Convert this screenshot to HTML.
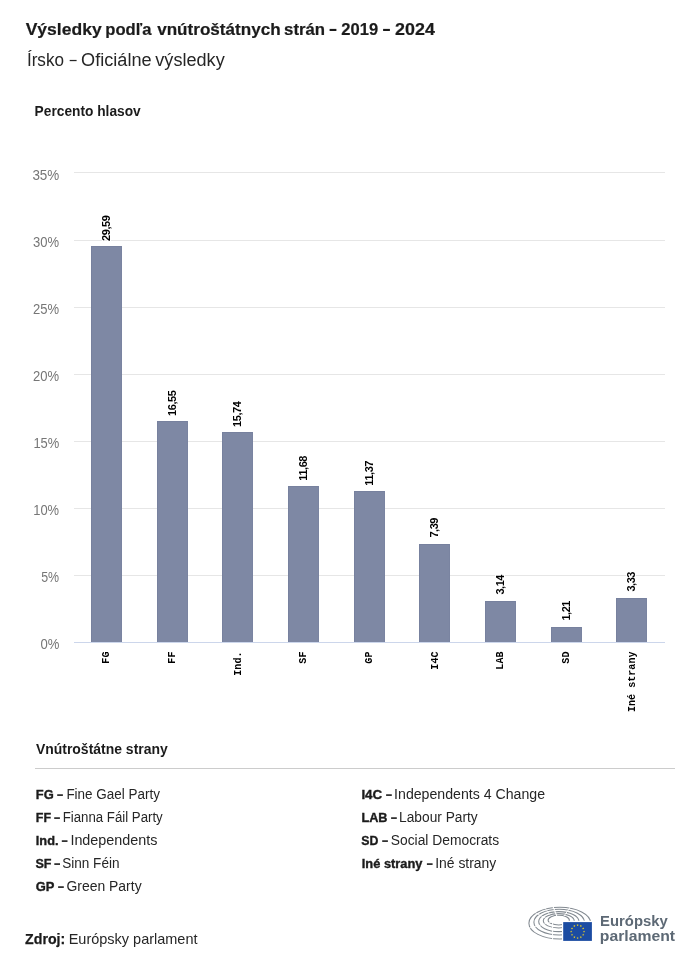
<!DOCTYPE html>
<html><head><meta charset="utf-8">
<style>
html,body{margin:0;padding:0;background:#fff;}
body{width:700px;height:964px;overflow:hidden;position:relative;}
svg{position:absolute;left:0;top:0;will-change:transform;}
text{font-family:"Liberation Sans",sans-serif;white-space:pre;}
.t{font-weight:bold;font-size:16.5px;fill:#1b1b1b;stroke:#1b1b1b;stroke-width:0.2px;}
.st{font-size:18px;fill:#262626;}
.h{font-weight:bold;font-size:14.5px;fill:#1b1b1b;}
.yl{font-size:14px;fill:#767676;}
.vl{font-weight:bold;font-size:11px;fill:#000;text-anchor:middle;letter-spacing:-0.45px;stroke:#fff;stroke-width:2px;paint-order:stroke;stroke-linejoin:round;}
.xl{font-family:"Liberation Mono",monospace;font-weight:bold;font-size:10.1px;fill:#000;text-anchor:end;}
.lb{font-weight:bold;font-size:12.4px;fill:#1b1b1b;stroke:#1b1b1b;stroke-width:0.35px;}
.lr{font-size:14px;fill:#262626;}
.zb{font-weight:bold;font-size:14.5px;fill:#1b1b1b;stroke:#1b1b1b;stroke-width:0.25px;}
.zr{font-size:14.5px;fill:#262626;}
.lg{font-weight:bold;font-size:14px;fill:#5d6975;}
</style></head><body>
<svg width="700" height="964" viewBox="0 0 700 964">
<rect x="74" y="172" width="591" height="1" fill="#e6e6e6"/>
<rect x="74" y="240" width="591" height="1" fill="#e6e6e6"/>
<rect x="74" y="307" width="591" height="1" fill="#e6e6e6"/>
<rect x="74" y="374" width="591" height="1" fill="#e6e6e6"/>
<rect x="74" y="441" width="591" height="1" fill="#e6e6e6"/>
<rect x="74" y="508" width="591" height="1" fill="#e6e6e6"/>
<rect x="74" y="575" width="591" height="1" fill="#e6e6e6"/>
<rect x="91" y="246" width="31" height="396" fill="#7e88a4"/>
<rect x="91" y="246" width="31" height="1" fill="#77819e"/><rect x="91" y="246" width="1" height="396" fill="#77819e"/><rect x="121" y="246" width="1" height="396" fill="#7a84a1"/>
<rect x="157" y="421" width="31" height="221" fill="#7e88a4"/>
<rect x="157" y="421" width="31" height="1" fill="#77819e"/><rect x="157" y="421" width="1" height="221" fill="#77819e"/><rect x="187" y="421" width="1" height="221" fill="#7a84a1"/>
<rect x="222" y="432" width="31" height="210" fill="#7e88a4"/>
<rect x="222" y="432" width="31" height="1" fill="#77819e"/><rect x="222" y="432" width="1" height="210" fill="#77819e"/><rect x="252" y="432" width="1" height="210" fill="#7a84a1"/>
<rect x="288" y="486" width="31" height="156" fill="#7e88a4"/>
<rect x="288" y="486" width="31" height="1" fill="#77819e"/><rect x="288" y="486" width="1" height="156" fill="#77819e"/><rect x="318" y="486" width="1" height="156" fill="#7a84a1"/>
<rect x="354" y="491" width="31" height="151" fill="#7e88a4"/>
<rect x="354" y="491" width="31" height="1" fill="#77819e"/><rect x="354" y="491" width="1" height="151" fill="#77819e"/><rect x="384" y="491" width="1" height="151" fill="#7a84a1"/>
<rect x="419" y="544" width="31" height="98" fill="#7e88a4"/>
<rect x="419" y="544" width="31" height="1" fill="#77819e"/><rect x="419" y="544" width="1" height="98" fill="#77819e"/><rect x="449" y="544" width="1" height="98" fill="#7a84a1"/>
<rect x="485" y="601" width="31" height="41" fill="#7e88a4"/>
<rect x="485" y="601" width="31" height="1" fill="#77819e"/><rect x="485" y="601" width="1" height="41" fill="#77819e"/><rect x="515" y="601" width="1" height="41" fill="#7a84a1"/>
<rect x="551" y="627" width="31" height="15" fill="#7e88a4"/>
<rect x="551" y="627" width="31" height="1" fill="#77819e"/><rect x="551" y="627" width="1" height="15" fill="#77819e"/><rect x="581" y="627" width="1" height="15" fill="#7a84a1"/>
<rect x="616" y="598" width="31" height="44" fill="#7e88a4"/>
<rect x="616" y="598" width="31" height="1" fill="#77819e"/><rect x="616" y="598" width="1" height="44" fill="#77819e"/><rect x="646" y="598" width="1" height="44" fill="#7a84a1"/>
<rect x="74" y="642" width="591" height="1" fill="#ccd6eb"/>
<text class="vl" transform="translate(110.0,228.3) rotate(-90)">29,59</text>
<text class="vl" transform="translate(176.0,403.3) rotate(-90)">16,55</text>
<text class="vl" transform="translate(241.0,414.3) rotate(-90)">15,74</text>
<text class="vl" transform="translate(307.0,468.3) rotate(-90)">11,68</text>
<text class="vl" transform="translate(373.0,473.3) rotate(-90)">11,37</text>
<text class="vl" transform="translate(438.0,527.8) rotate(-90)">7,39</text>
<text class="vl" transform="translate(504.0,584.8) rotate(-90)">3,14</text>
<text class="vl" transform="translate(570.0,610.8) rotate(-90)">1,21</text>
<text class="vl" transform="translate(635.0,581.8) rotate(-90)">3,33</text>
<text class="xl" transform="translate(108.80,651.5) rotate(-90)">FG</text>
<text class="xl" transform="translate(174.50,651.5) rotate(-90)">FF</text>
<text class="xl" transform="translate(241.00,651.5) rotate(-90)">Ind.</text>
<text class="xl" transform="translate(305.80,651.5) rotate(-90)">SF</text>
<text class="xl" transform="translate(371.50,651.5) rotate(-90)">GP</text>
<text class="xl" transform="translate(437.80,651.5) rotate(-90)">I4C</text>
<text class="xl" transform="translate(502.50,651.5) rotate(-90)">LAB</text>
<text class="xl" transform="translate(568.80,651.5) rotate(-90)">SD</text>
<text class="xl" transform="translate(635.00,651.5) rotate(-90)">Iné strany</text>
<rect x="35" y="768" width="640" height="1" fill="#cccccc"/>
<rect x="329.6" y="28.9" width="6.8" height="2.1" fill="#1b1b1b"/><rect x="383.1" y="28.9" width="6.8" height="2.1" fill="#1b1b1b"/><rect x="69.7" y="59.9" width="6.9" height="1.25" fill="#262626"/><rect x="57.2" y="794.3" width="5.7" height="1.6" fill="#1b1b1b"/><rect x="54.2" y="817.3" width="5.7" height="1.6" fill="#1b1b1b"/><rect x="61.8" y="840.3" width="5.7" height="1.6" fill="#1b1b1b"/><rect x="54.3" y="863.3" width="5.7" height="1.6" fill="#1b1b1b"/><rect x="58.1" y="886.3" width="5.7" height="1.6" fill="#1b1b1b"/><rect x="386.1" y="794.3" width="5.7" height="1.6" fill="#1b1b1b"/><rect x="391.1" y="817.3" width="5.7" height="1.6" fill="#1b1b1b"/><rect x="382.2" y="840.3" width="5.7" height="1.6" fill="#1b1b1b"/><rect x="426.9" y="863.3" width="5.7" height="1.6" fill="#1b1b1b"/>
<text id="t1" class="t" x="25.70" y="35" textLength="76.00" lengthAdjust="spacingAndGlyphs">Výsledky</text>
<text id="t2" class="t" x="105.30" y="35" textLength="46.10" lengthAdjust="spacingAndGlyphs">podľa</text>
<text id="t3" class="t" x="157.20" y="35" textLength="123.40" lengthAdjust="spacingAndGlyphs">vnútroštátnych</text>
<text id="t4" class="t" x="284.10" y="35" textLength="41.00" lengthAdjust="spacingAndGlyphs">strán</text>
<text id="t5" class="t" x="341.30" y="35" textLength="36.80" lengthAdjust="spacingAndGlyphs">2019</text>
<text id="t6" class="t" x="395.10" y="35" textLength="39.80" lengthAdjust="spacingAndGlyphs">2024</text>
<text id="s1" class="st" x="26.90" y="66" textLength="37.10" lengthAdjust="spacingAndGlyphs">Írsko</text>
<text id="s2" class="st" x="81.10" y="66" textLength="70.50" lengthAdjust="spacingAndGlyphs">Oficiálne</text>
<text id="s3" class="st" x="155.30" y="66" textLength="69.40" lengthAdjust="spacingAndGlyphs">výsledky</text>
<text id="ph" class="h" x="34.60" y="116" textLength="106.10" lengthAdjust="spacingAndGlyphs">Percento hlasov</text>
<text id="lh" class="h" x="35.90" y="754" textLength="131.90" lengthAdjust="spacingAndGlyphs">Vnútroštátne strany</text>
<text id="b1" class="lb" x="35.80" y="799" textLength="17.90" lengthAdjust="spacingAndGlyphs">FG</text>
<text id="r1" class="lr" x="66.40" y="799" textLength="93.60" lengthAdjust="spacingAndGlyphs">Fine Gael Party</text>
<text id="b2" class="lb" x="35.80" y="822" textLength="15.30" lengthAdjust="spacingAndGlyphs">FF</text>
<text id="r2" class="lr" x="62.70" y="822" textLength="100.00" lengthAdjust="spacingAndGlyphs">Fianna Fáil Party</text>
<text id="b3" class="lb" x="35.80" y="845" textLength="22.70" lengthAdjust="spacingAndGlyphs">Ind.</text>
<text id="r3" class="lr" x="70.40" y="845" textLength="87.10" lengthAdjust="spacingAndGlyphs">Independents</text>
<text id="b4" class="lb" x="35.40" y="868" textLength="16.10" lengthAdjust="spacingAndGlyphs">SF</text>
<text id="r4" class="lr" x="62.20" y="868" textLength="57.30" lengthAdjust="spacingAndGlyphs">Sinn Féin</text>
<text id="b5" class="lb" x="35.80" y="891" textLength="18.70" lengthAdjust="spacingAndGlyphs">GP</text>
<text id="r5" class="lr" x="66.50" y="891" textLength="75.10" lengthAdjust="spacingAndGlyphs">Green Party</text>
<text id="b6" class="lb" x="361.40" y="799" textLength="20.90" lengthAdjust="spacingAndGlyphs">I4C</text>
<text id="r6" class="lr" x="394.10" y="799" textLength="151.00" lengthAdjust="spacingAndGlyphs">Independents 4 Change</text>
<text id="b7" class="lb" x="361.40" y="822" textLength="26.10" lengthAdjust="spacingAndGlyphs">LAB</text>
<text id="r7" class="lr" x="399.10" y="822" textLength="78.60" lengthAdjust="spacingAndGlyphs">Labour Party</text>
<text id="b8" class="lb" x="361.20" y="845" textLength="17.10" lengthAdjust="spacingAndGlyphs">SD</text>
<text id="r8" class="lr" x="390.80" y="845" textLength="108.30" lengthAdjust="spacingAndGlyphs">Social Democrats</text>
<text id="b9" class="lb" x="361.80" y="868" textLength="60.70" lengthAdjust="spacingAndGlyphs">Iné strany</text>
<text id="r9" class="lr" x="435.20" y="868" textLength="61.10" lengthAdjust="spacingAndGlyphs">Iné strany</text>
<text id="zb" class="zb" x="25.10" y="944" textLength="40.10" lengthAdjust="spacingAndGlyphs">Zdroj:</text>
<text id="zr" class="zr" x="68.70" y="944" textLength="128.80" lengthAdjust="spacingAndGlyphs">Európsky parlament</text>
<text id="y0" class="yl" x="32.40" y="180" textLength="26.90" lengthAdjust="spacingAndGlyphs">35%</text>
<text id="y1" class="yl" x="33.00" y="247" textLength="26.10" lengthAdjust="spacingAndGlyphs">30%</text>
<text id="y2" class="yl" x="33.00" y="314" textLength="26.10" lengthAdjust="spacingAndGlyphs">25%</text>
<text id="y3" class="yl" x="33.00" y="381" textLength="26.10" lengthAdjust="spacingAndGlyphs">20%</text>
<text id="y4" class="yl" x="33.40" y="448" textLength="25.90" lengthAdjust="spacingAndGlyphs">15%</text>
<text id="y5" class="yl" x="33.20" y="515" textLength="25.90" lengthAdjust="spacingAndGlyphs">10%</text>
<text id="y6" class="yl" x="41.20" y="582" textLength="17.90" lengthAdjust="spacingAndGlyphs">5%</text>
<text id="y7" class="yl" x="40.40" y="649" textLength="18.90" lengthAdjust="spacingAndGlyphs">0%</text>
<text id="l1" class="lg" x="600.10" y="926" textLength="67.60" lengthAdjust="spacingAndGlyphs">Európsky</text>
<text id="l2" class="lg" x="599.80" y="941" textLength="75.20" lengthAdjust="spacingAndGlyphs">parlament</text>
<g id="logo">
<ellipse cx="559.8" cy="923.15" rx="30.9" ry="15.85" fill="none" stroke="#838a91" stroke-width="1.05"/>
<ellipse cx="559.15" cy="922.15" rx="25.25" ry="12.85" fill="none" stroke="#838a91" stroke-width="1.05"/>
<ellipse cx="558.85" cy="921.6" rx="20.15" ry="10.0" fill="none" stroke="#838a91" stroke-width="1.05"/>
<ellipse cx="558.75" cy="920.8" rx="15.45" ry="7.2" fill="none" stroke="#838a91" stroke-width="1.05"/>
<ellipse cx="558.75" cy="920.15" rx="10.65" ry="4.85" fill="none" stroke="#838a91" stroke-width="1.05"/>
<line x1="552.6" y1="921" x2="552.6" y2="943" stroke="#fff" stroke-width="1.0"/><line x1="552.0" y1="904" x2="557.6" y2="918" stroke="#fff" stroke-width="1.1"/>
<line x1="528.50" y1="928.20" x2="551.00" y2="922.30" stroke="#fff" stroke-width="0.9"/>
<line x1="530.68" y1="910.34" x2="546.50" y2="918.60" stroke="#fff" stroke-width="0.8"/>
<line x1="572.16" y1="904.60" x2="564.00" y2="916.00" stroke="#fff" stroke-width="0.9"/>
<line x1="543.39" y1="905.40" x2="549.50" y2="914.50" stroke="#fff" stroke-width="0.7"/>
<rect x="562" y="920.8" width="32" height="22" fill="#fff"/>
<rect x="563.2" y="922.1" width="28.7" height="18.8" fill="#1c4ca2"/>
<polygon points="584.05,930.40 584.35,931.19 585.19,931.23 584.53,931.76 584.76,932.57 584.05,932.10 583.34,932.57 583.57,931.76 582.91,931.23 583.75,931.19" fill="#f5d51c"/>
<polygon points="583.19,933.62 583.48,934.42 584.33,934.45 583.67,934.98 583.89,935.80 583.19,935.33 582.48,935.80 582.71,934.98 582.04,934.45 582.89,934.42" fill="#f5d51c"/>
<polygon points="580.83,935.99 581.12,936.78 581.97,936.82 581.30,937.34 581.53,938.16 580.83,937.69 580.12,938.16 580.35,937.34 579.68,936.82 580.53,936.78" fill="#f5d51c"/>
<polygon points="577.60,936.85 577.90,937.64 578.74,937.68 578.08,938.21 578.31,939.02 577.60,938.55 576.89,939.02 577.12,938.21 576.46,937.68 577.30,937.64" fill="#f5d51c"/>
<polygon points="574.38,935.99 574.67,936.78 575.52,936.82 574.85,937.34 575.08,938.16 574.38,937.69 573.67,938.16 573.90,937.34 573.23,936.82 574.08,936.78" fill="#f5d51c"/>
<polygon points="572.01,933.62 572.31,934.42 573.16,934.45 572.49,934.98 572.72,935.80 572.01,935.33 571.31,935.80 571.53,934.98 570.87,934.45 571.72,934.42" fill="#f5d51c"/>
<polygon points="571.15,930.40 571.45,931.19 572.29,931.23 571.63,931.76 571.86,932.57 571.15,932.10 570.44,932.57 570.67,931.76 570.01,931.23 570.85,931.19" fill="#f5d51c"/>
<polygon points="572.01,927.17 572.31,927.97 573.16,928.00 572.49,928.53 572.72,929.35 572.01,928.88 571.31,929.35 571.53,928.53 570.87,928.00 571.72,927.97" fill="#f5d51c"/>
<polygon points="574.38,924.81 574.67,925.61 575.52,925.64 574.85,926.17 575.08,926.98 574.38,926.52 573.67,926.98 573.90,926.17 573.23,925.64 574.08,925.61" fill="#f5d51c"/>
<polygon points="577.60,923.95 577.90,924.74 578.74,924.78 578.08,925.31 578.31,926.12 577.60,925.65 576.89,926.12 577.12,925.31 576.46,924.78 577.30,924.74" fill="#f5d51c"/>
<polygon points="580.83,924.81 581.12,925.61 581.97,925.64 581.30,926.17 581.53,926.98 580.83,926.52 580.12,926.98 580.35,926.17 579.68,925.64 580.53,925.61" fill="#f5d51c"/>
<polygon points="583.19,927.17 583.48,927.97 584.33,928.00 583.67,928.53 583.89,929.35 583.19,928.88 582.48,929.35 582.71,928.53 582.04,928.00 582.89,927.97" fill="#f5d51c"/>
</g>
</svg>
</body></html>
